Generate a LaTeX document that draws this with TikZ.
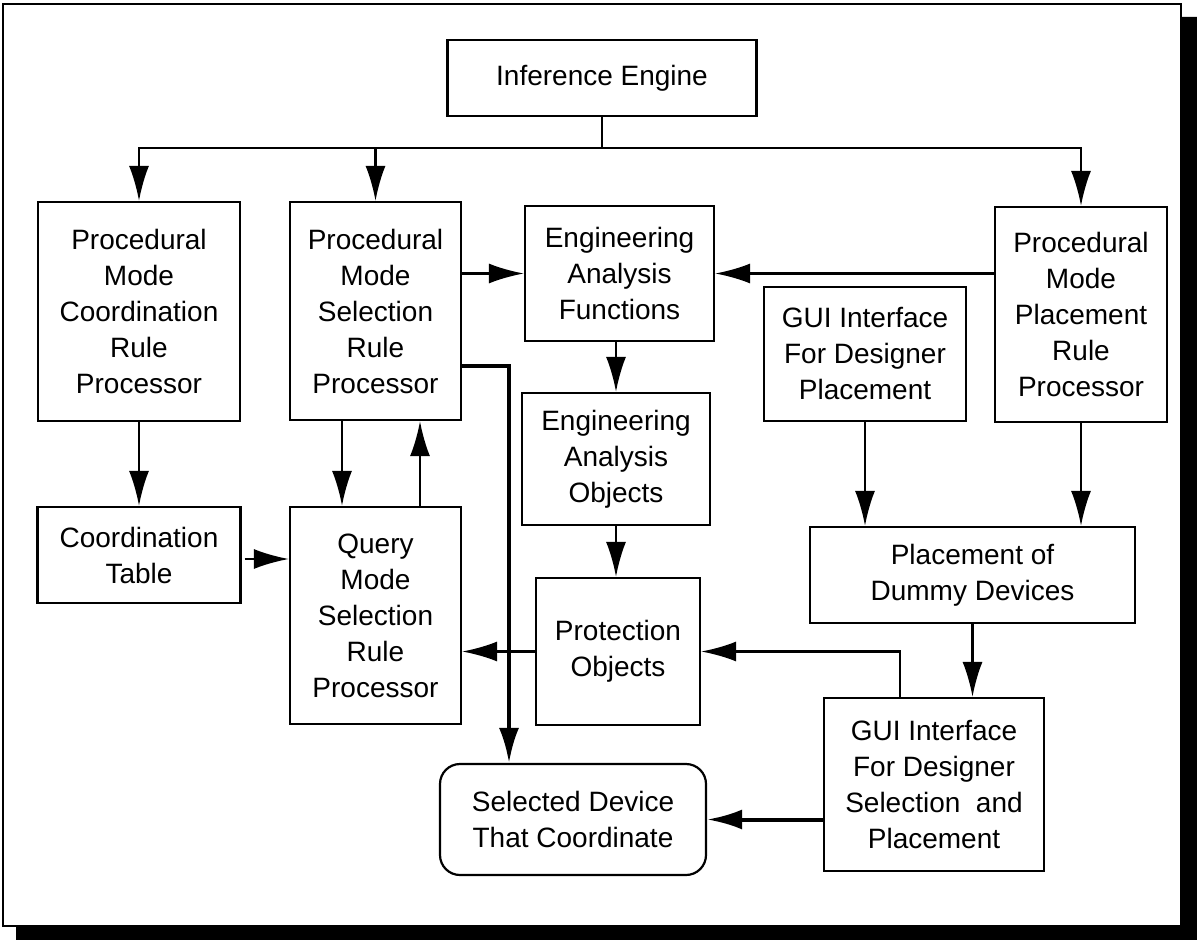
\documentclass[tikz,border=0pt]{standalone}
\usepackage{fontspec}
\setmainfont{Liberation Sans}
\usetikzlibrary{arrows.meta}

\begin{document}
\begin{tikzpicture}[x=0.5pt,y=-0.5pt,
  box/.style={draw, line width=1.1pt, inner sep=0pt, align=center,
    font=\fontsize{14}{18}\selectfont},
  link/.style={line width=1.2pt},
  conn/.style={link, -{Latex[length=17.5pt,width=10pt]}},
  heavy/.style={conn, line width=2pt},
]
% page and framed panel with its drop shadow
\useasboundingbox (0,0) rectangle (1197,940);
\fill[white] (0,0) rectangle (1197,940);
\fill[black] (16,926) -- (1181,926) -- (1181,17) -- (1197,17) -- (1197,940) -- (16,940) -- cycle;
\draw[line width=1pt] (3,4) rectangle (1181,926);

% blocks
\node[box, minimum width=154.5pt, minimum height=38pt] (ie) at (602,78) {Inference Engine};
\node[box, minimum width=101pt, minimum height=109.5pt] (pmc) at (139,311.5)
  {Procedural\\Mode\\Coordination\\Rule\\Processor};
\node[box, minimum width=85.5pt, minimum height=109pt] (pms) at (375.5,311)
  {Procedural\\Mode\\Selection\\Rule\\Processor};
\node[box, minimum width=94.5pt, minimum height=67.5pt] (eaf) at (619.5,273.5)
  {Engineering\\Analysis\\Functions};
\node[box, minimum width=86pt, minimum height=107.5pt] (pmp) at (1081,314.5)
  {Procedural\\Mode\\Placement\\Rule\\Processor};
\node[box, minimum width=101pt, minimum height=67pt] (guip) at (865,354)
  {GUI Interface\\For Designer\\Placement};
\node[box, minimum width=94pt, minimum height=66pt] (eao) at (616,459)
  {Engineering\\Analysis\\Objects};
\node[box, minimum width=82pt, minimum height=73.5pt] (prot) at (618,651.5)
  {Protection\\Objects};
\node[box, minimum width=162.5pt, minimum height=48pt] (dummy) at (972.5,575)
  {Placement of\\Dummy Devices};
\node[box, minimum width=110pt, minimum height=86.5pt] (guis) at (934,784.5)
  {GUI Interface\\For Designer\\Selection\ \ and\\Placement};
\node[box, rounded corners=10pt, minimum width=133pt, minimum height=55.5pt] (sel) at (573,819.5)
  {Selected Device\\That Coordinate};
\node[box, minimum width=101.5pt, minimum height=48pt] (ct) at (139,555)
  {Coordination\\Table};
\node[box, minimum width=85.5pt, minimum height=108.5pt] (qm) at (375.5,615.5)
  {Query\\Mode\\Selection\\Rule\\Processor};

% distribution from the inference engine
\coordinate (bus) at (602,148);
\draw[link] (ie.south) -- (bus);
\draw[conn] (bus) -| (pmc.north);
\draw[conn] (bus) -| (pms.north);
\draw[conn] (bus) -| (pmp.north);

% engineering analysis chain
\draw[conn] (pms.east |- eaf.west) -- (eaf.west);
\draw[conn] (pmp.west |- eaf.east) -- (eaf.east);
\draw[conn] (eaf.south -| eao.north) -- (eao.north);
\draw[conn] (eao.south) -- (eao.south |- prot.north);

% coordination / query side
\draw[conn] (pmc.south) -- (pmc.south |- ct.north);
\draw[conn] ([xshift=-16.75pt]pms.south) -- ([xshift=-16.75pt]qm.north);
\draw[conn] ([xshift=22.25pt]qm.north) -- ([xshift=22.25pt]pms.south);
\draw[conn] ([xshift=1.5pt,yshift=-2pt]ct.east) -- ([yshift=-2pt]ct.east -| qm.west);
\draw[conn] (prot.west) -- (prot.west -| qm.east);
\draw[heavy] ([yshift=-27.5pt]pms.east) -| ([xshift=-32pt]sel.north);

% placement side
\draw[conn] (guip.south) -- (guip.south |- dummy.north);
\draw[conn] (pmp.south) -- (pmp.south |- dummy.north);
\draw[conn] (dummy.south) -- (dummy.south |- guis.north);
\draw[conn] ([xshift=-17pt]guis.north) |- (prot.east);
\draw[heavy] (guis.west |- sel.east) -- (sel.east);
\end{tikzpicture}
\end{document}
